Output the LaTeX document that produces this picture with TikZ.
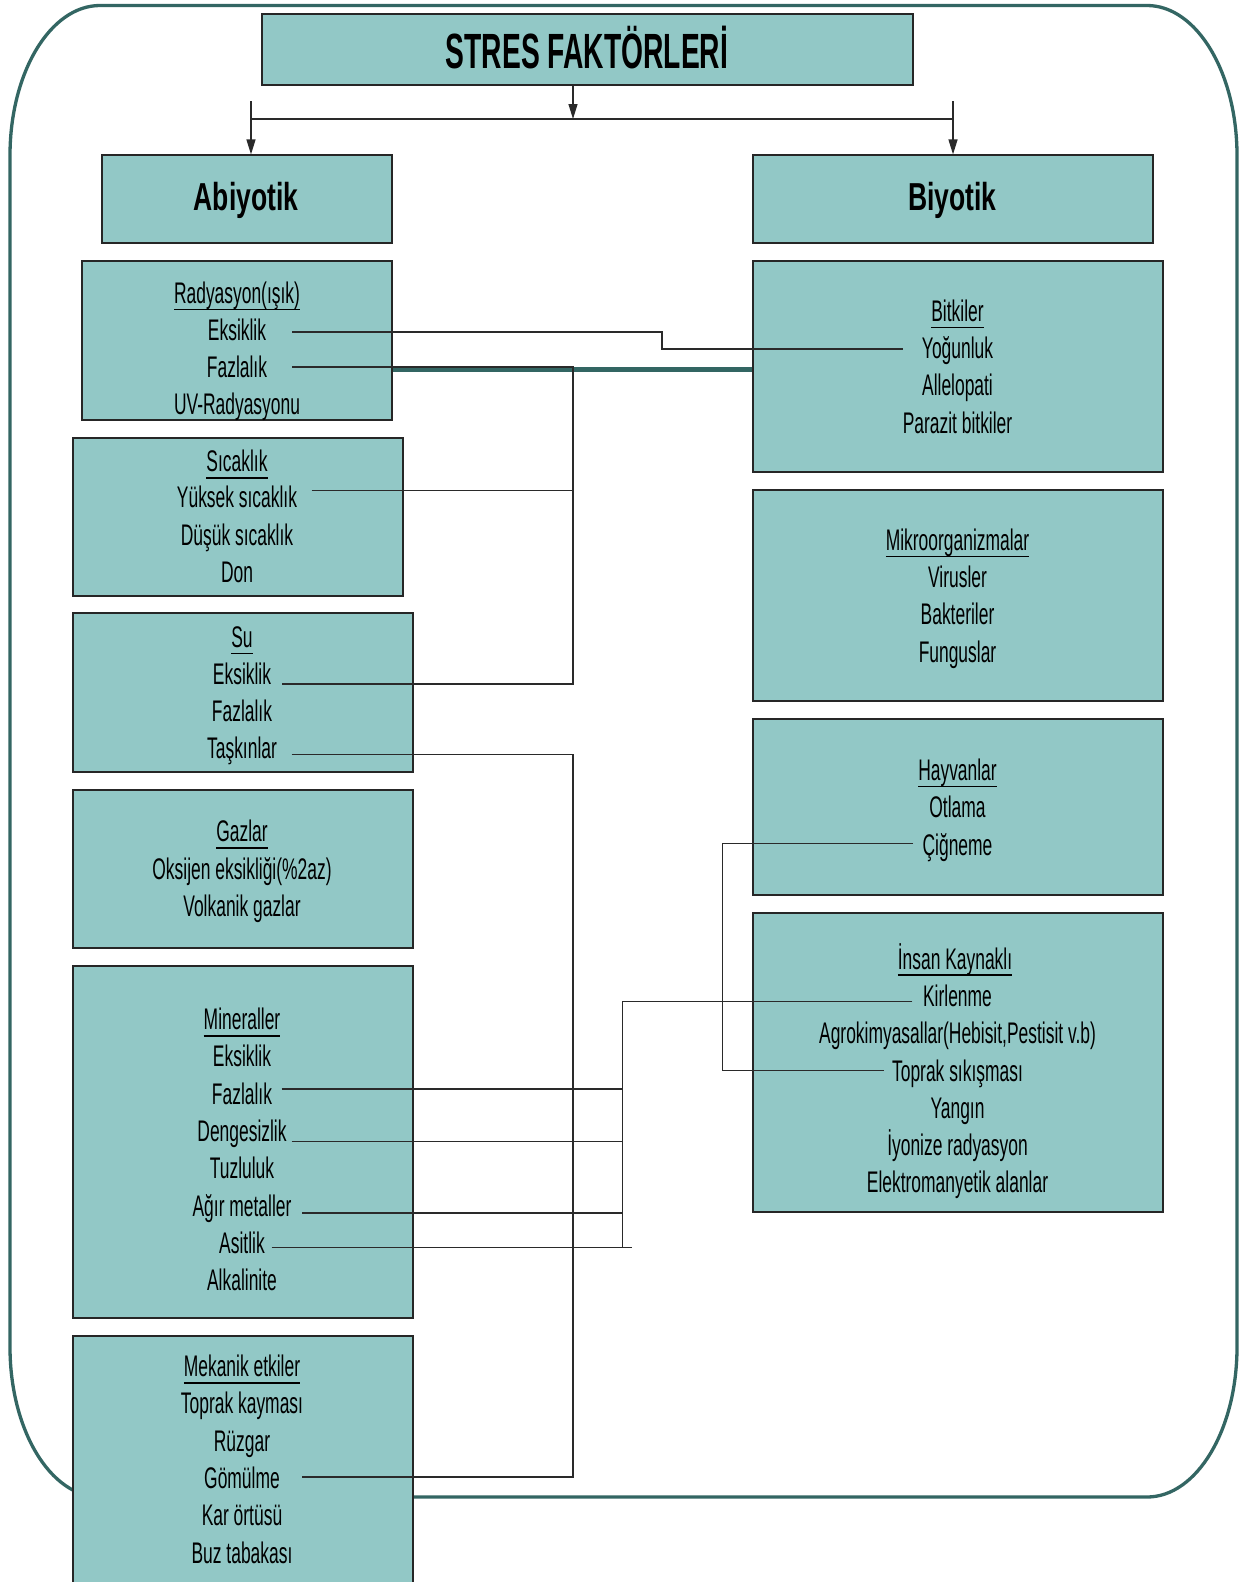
\documentclass[tikz,border=0pt]{standalone}
\usepackage{fontspec}
\setmainfont{Liberation Sans}[FakeStretch=0.585]
\newfontfamily\ttlfont{Liberation Sans}[FakeStretch=0.57]
\newfontfamily\hdfont{Liberation Sans}[FakeStretch=0.68]
\usetikzlibrary{arrows.meta}
\definecolor{boxfill}{HTML}{92C8C6}
\definecolor{framecol}{HTML}{336663}
\definecolor{lncol}{HTML}{2A2A2A}
\newcommand\ulx[1]{\sbox0{#1}\rlap{\rule[-7pt]{\wd0}{1.6pt}}\usebox0}
\tikzset{
  boxst/.style={draw=black!85, line width=1.2pt, fill=boxfill, rectangle, inner sep=0pt},
  conn/.style={draw=lncol, line width=1.3pt},
  arr/.style={conn, -{Triangle[length=15pt,width=9pt]}},
  txt/.style={anchor=base, inner sep=0pt, font=\fontsize{29.8}{36}\selectfont},
  framest/.style={draw=framecol, line width=3.3pt},
}
\begin{document}
\begin{tikzpicture}[x=1pt,y=-1pt]
\clip (0,0) rectangle (1247,1582);
\fill[white] (0,0) rectangle (1247,1582);
% frame
\draw[framest] (100,5.5) -- (1147,5.5) .. controls (1196.7,5.5) and (1237,72.7) .. (1237,155.5)
  -- (1237,1347) .. controls (1237,1429.8) and (1196.7,1497) .. (1147,1497)
  -- (100,1497) .. controls (50.3,1497) and (10,1429.8) .. (10,1347)
  -- (10,155.5) .. controls (10,72.7) and (50.3,5.5) .. (100,5.5) -- cycle;
% boxes
\node[boxst, minimum width=651, minimum height=71] (title) at (587.5,49.5) {};
\node[boxst, minimum width=290, minimum height=88] (abi) at (247,199) {};
\node[boxst, minimum width=400, minimum height=88] (biy) at (953,199) {};
\node[boxst, minimum width=310, minimum height=159] (brad) at (237,340.5) {};
\node[boxst, minimum width=330, minimum height=158] (bsic) at (238,517) {};
\node[boxst, minimum width=340, minimum height=159] (bsu) at (243,692.5) {};
\node[boxst, minimum width=340, minimum height=158] (bgaz) at (243,869) {};
\node[boxst, minimum width=340, minimum height=352] (bmin) at (243,1142) {};
\node[boxst, minimum width=340, minimum height=264] (bmek) at (243,1468) {};
\node[boxst, minimum width=410, minimum height=211] (bbit) at (958,366.5) {};
\node[boxst, minimum width=410, minimum height=211] (bmik) at (958,595.5) {};
\node[boxst, minimum width=410, minimum height=176] (bhay) at (958,807) {};
\node[boxst, minimum width=410, minimum height=299] (bins) at (958,1062.5) {};
% thick link between Radyasyon and Bitkiler
\draw[draw=framecol, line width=5pt] (brad.east |- 0,369.5) -- (bbit.west |- 0,369.5);
% top arrows
\coordinate (tArr) at (573,119);
\coordinate (busL) at (251,119);
\coordinate (busR) at (953,119);
\coordinate (stubL) at (251,101);
\coordinate (stubR) at (953,101);
\draw[arr] (title.south -| tArr) -- (tArr);
\draw[conn] (busL) -- (busR);
\draw[arr] (stubL) -- (abi.north -| stubL);
\draw[arr] (stubR) -- (biy.north -| stubR);
% texts
\node[txt, font=\fontsize{49.5}{56}\selectfont\ttlfont\bfseries] (ttl) at (587,68.6) {STRES FAKTÖRLERİ};
\node[txt, font=\fontsize{39}{46}\selectfont\hdfont\bfseries] (tabi) at (246,210) {Abiyotik};
\node[txt, font=\fontsize{39}{46}\selectfont\hdfont\bfseries] (tbiy) at (952.5,210) {Biyotik};
% Radyasyon
\node[txt] (r0) at (237,303.1) {\ulx{Radyasyon(ışık)}};
\node[txt] (r1) at (237,340.4) {Eksiklik};
\node[txt] (r2) at (237,377.8) {Fazlalık};
\node[txt] (r3) at (237,414.1) {UV-Radyasyonu};
% Sicaklik
\node[txt] (s0) at (237,471.6) {\ulx{Sıcaklık}};
\node[txt] (s1) at (237,507.9) {Yüksek sıcaklık};
\node[txt] (s2) at (237,545.2) {Düşük sıcaklık};
\node[txt] (s3) at (237,582.6) {Don};
% Su
\node[txt] (u0) at (242,647.1) {\ulx{Su}};
\node[txt] (u1) at (242,684.5) {Eksiklik};
\node[txt] (u2) at (242,721.8) {Fazlalık};
\node[txt] (u3) at (242,758.1) {Taşkınlar};
% Gazlar
\node[txt] (g0) at (242,841.8) {\ulx{Gazlar}};
\node[txt] (g1) at (242,879.2) {Oksijen eksikliği(\%2az)};
\node[txt] (g2) at (242,916.5) {Volkanik gazlar};
% Mineraller
\node[txt] (m0) at (242,1029.5) {\ulx{Mineraller}};
\node[txt] (m1) at (242,1066.8) {Eksiklik};
\node[txt] (m2) at (242,1104.2) {Fazlalık};
\node[txt] (m3) at (242,1141.5) {Dengesizlik};
\node[txt] (m4) at (242,1178.8) {Tuzluluk};
\node[txt] (m5) at (242,1216.1) {Ağır metaller};
\node[txt] (m6) at (242,1253.5) {Asitlik};
\node[txt] (m7) at (242,1290.8) {Alkalinite};
% Mekanik
\node[txt] (k0) at (242,1376.6) {\ulx{Mekanik etkiler}};
\node[txt] (k1) at (242,1413.9) {Toprak kayması};
\node[txt] (k2) at (242,1451.2) {Rüzgar};
\node[txt] (k3) at (242,1488.5) {Gömülme};
\node[txt] (k4) at (242,1525.9) {Kar örtüsü};
\node[txt] (k5) at (242,1563.2) {Buz tabakası};
% Bitkiler
\node[txt] (b0) at (957.5,321.3) {\ulx{Bitkiler}};
\node[txt] (b1) at (957.5,358.6) {Yoğunluk};
\node[txt] (b2) at (957.5,395.9) {Allelopati};
\node[txt] (b3) at (957.5,433.2) {Parazit bitkiler};
% Mikroorganizmalar
\node[txt] (o0) at (957.5,550.3) {\ulx{Mikroorganizmalar}};
\node[txt] (o1) at (957.5,587.6) {Virusler};
\node[txt] (o2) at (957.5,624.9) {Bakteriler};
\node[txt] (o3) at (957.5,662.3) {Funguslar};
% Hayvanlar
\node[txt] (h0) at (957.5,780.3) {\ulx{Hayvanlar}};
\node[txt] (h1) at (957.5,817.6) {Otlama};
\node[txt] (h2) at (957.5,855.0) {Çiğneme};
% Insan
\node[txt] (i0) at (955,969) {\ulx{İnsan Kaynaklı}};
\node[txt] (i1) at (957.5,1006.3) {Kirlenme};
\node[txt] (i2) at (957.5,1043.6) {Agrokimyasallar(Hebisit,Pestisit v.b)};
\node[txt] (i3) at (957.5,1081) {Toprak sıkışması};
\node[txt] (i4) at (957.5,1118.3) {Yangın};
\node[txt] (i5) at (957.5,1155.6) {İyonize radyasyon};
\node[txt] (i6) at (957.5,1192.9) {Elektromanyetik alanlar};
% connector points
\coordinate (cr1) at (292,332);   \coordinate (cb1) at (903,349);
\coordinate (cr2) at (292,367);
\coordinate (cs1) at (311.7,490.5);
\coordinate (cu1) at (282.3,684);
\coordinate (cu3) at (291.7,754.3);
\coordinate (ck3) at (302,1477);
\coordinate (ch2) at (913,843.3);
\coordinate (ci3) at (884,1070.5);
\coordinate (ci1) at (912.3,1001.7);
\coordinate (cm2) at (281.7,1089);
\coordinate (cm3) at (291.7,1141.3);
\coordinate (cm5) at (302.3,1213);
\coordinate (cm6) at (271.7,1247.3);
\coordinate (cm6e) at (631.7,1247.3);
% connectors
\draw[conn] (cr1) -- (662,332) -- (662,349) -- (cb1);
\draw[conn] (cr2) -- (573,367) -- (573,684) -- (cu1);
\draw[conn] (cs1) -- (573,490.5);
\draw[conn] (cu3) -- (573,754.3) -- (573,1477) -- (ck3);
\draw[conn] (ch2) -- (722.7,843.3) -- (722.7,1070.5) -- (ci3);
\draw[conn] (ci1) -- (622.7,1001.7) -- (622.7,1247.3);
\draw[conn] (cm2) -- (622.7,1089);
\draw[conn] (cm3) -- (622.7,1141.3);
\draw[conn] (cm5) -- (622.7,1213);
\draw[conn] (cm6) -- (cm6e);
\end{tikzpicture}
\end{document}
